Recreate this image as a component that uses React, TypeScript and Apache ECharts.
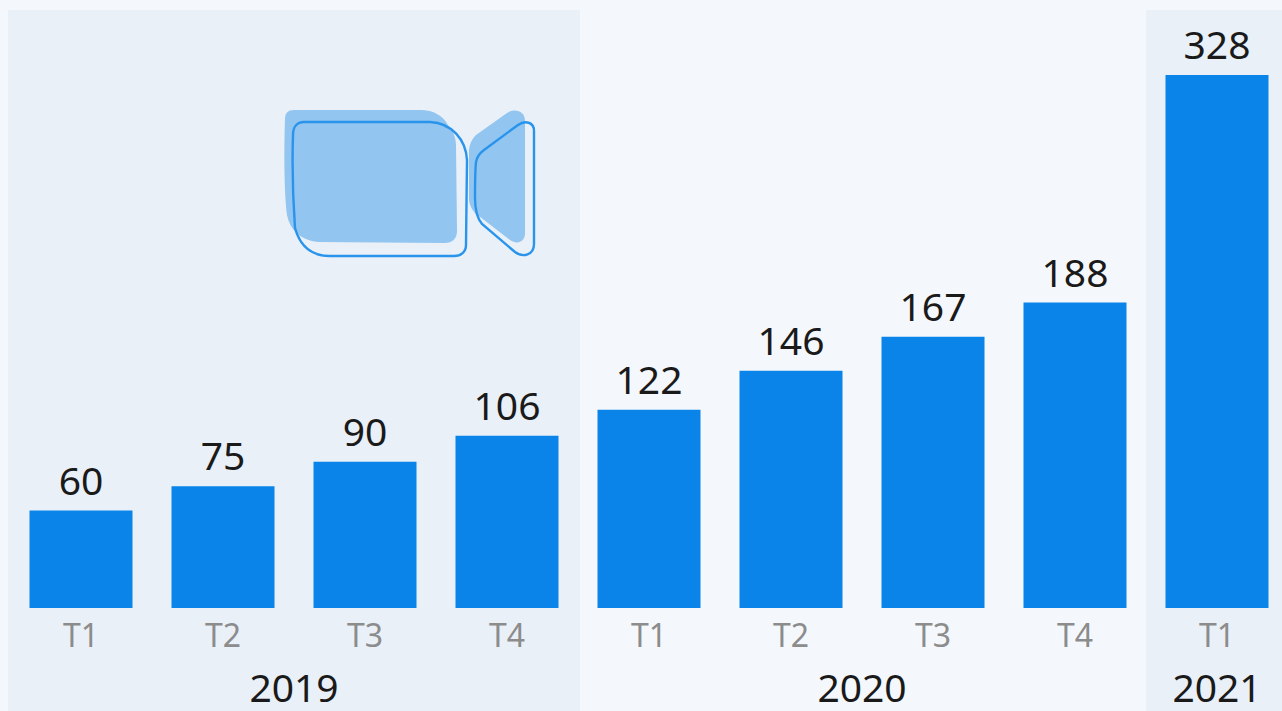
import React, { useEffect, useRef } from "react";
import * as echarts from "echarts";

const quarters = ["T1", "T2", "T3", "T4", "T1", "T2", "T3", "T4", "T1"];
const revenue = [60, 75, 90, 106, 122, 146, 167, 188, 328];
const years = ["2019", "2020", "2021"];
const yearFirstBar = [0, 4, 8];
const yearLastBar = [3, 7, 8];

const FONT = "'Noto Sans', sans-serif";
const GRID_LEFT = 10;
const STEP = 142;
const GRID_TOP = 23;
const GRID_HEIGHT = 585;

const bodyFill =
  "M285 119 C285 113 288 110 294 110 L420 110 C434 110 443 116 448 125 C454 133 456 138 456 146 L457 231 C457 239 452 243 445 243 L318 242 C300 240 290 230 287 215 C284 190 284 150 285 119 Z";
const bodyLine =
  "M293 135 C293 127 297 122 304 122 L430 122 C452 123 466 140 467 160 L466 245 C466 252 461 256 454 256 L330 256 C312 256 300 246 295 228 C293 200 292 165 293 135 Z";
const wingFill =
  "M469 150 C470 143 472 139 476 135 L507 113 C515 108 525 111 525 121 L525 233 C525 242 517 245 510 240 L475 213 C471 208 469 204 469 198 Z";
const wingLine =
  "M484 150 L518 125 C525 120 534 122 534 131 L534 244 C534 255 523 258 515 252 L482 224 C477 218 475 210 475 198 C475 185 475 172 476 162 C477 156 480 153 484 150 Z";

echarts.graphic.registerShape("bodyFill", echarts.graphic.extendPath(bodyFill, {}));
echarts.graphic.registerShape("bodyLine", echarts.graphic.extendPath(bodyLine, {}));
echarts.graphic.registerShape("wingFill", echarts.graphic.extendPath(wingFill, {}));
echarts.graphic.registerShape("wingLine", echarts.graphic.extendPath(wingLine, {}));

export default function App() {
  const ref = useRef<HTMLDivElement>(null);
  useEffect(() => {
    const chart = echarts.init(ref.current!, null, { renderer: "svg" });
    const iconFill = { fill: "#92c5f0", stroke: "none" };
    const iconLine = { fill: "none", stroke: "#2a94ec", lineWidth: 2.4 };
    chart.setOption({
      animation: false,
      backgroundColor: "#f4f8fc",
      graphic: [
        { type: "rect", shape: { x: 8, y: 10, width: 572, height: 701 }, style: { fill: "#e9f0f8" } },
        { type: "rect", shape: { x: 1146, y: 10, width: 136, height: 701 }, style: { fill: "#e9f0f8" } },
        { type: "bodyFill", x: 0, y: 0, style: iconFill },
        { type: "wingFill", x: 0, y: 0, style: iconFill },
        { type: "bodyLine", x: 0, y: 0, style: iconLine },
        { type: "wingLine", x: 0, y: 0, style: iconLine },
        ...years.map((year, i) => ({
          type: "text",
          x: GRID_LEFT + STEP * ((yearFirstBar[i] + yearLastBar[i] + 1) / 2),
          y: 686,
          style: {
            text: year,
            fontFamily: FONT,
            fontSize: 39,
            fill: "#1a1a1a",
            textAlign: "center",
            textVerticalAlign: "middle",
          },
        })),
      ],
      grid: { left: GRID_LEFT, top: GRID_TOP, width: STEP * quarters.length, height: GRID_HEIGHT },
      xAxis: {
        type: "category",
        data: quarters,
        axisLine: { show: false },
        axisTick: { show: false },
        axisLabel: { color: "#8c8c8c", fontFamily: FONT, fontSize: 32, margin: 10, interval: 0 },
      },
      yAxis: { type: "value", min: 0, max: 360, show: false, splitLine: { show: false } },
      series: [
        {
          type: "bar",
          data: revenue,
          barWidth: 103,
          itemStyle: { color: "#0a84e8" },
          label: {
            show: true,
            position: "top",
            distance: 12,
            color: "#1a1a1a",
            fontFamily: FONT,
            fontSize: 39,
          },
        },
      ],
    });
    return () => chart.dispose();
  }, []);
  return (
    <div style={{ position: "absolute", left: 0, top: 0, width: 1282, height: 711, overflow: "hidden" }}>
      <div ref={ref} style={{ width: 1300, height: 711 }} />
    </div>
  );
}
